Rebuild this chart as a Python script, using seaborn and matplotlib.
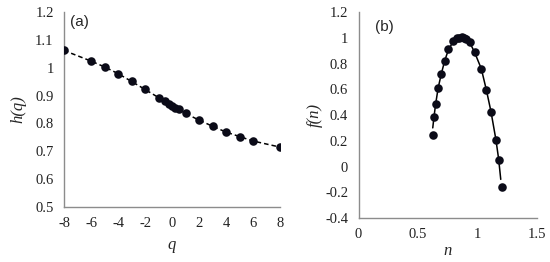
import numpy as np
import pandas as pd
import seaborn as sns
import matplotlib.pyplot as plt

# panel (a): generalized Hurst exponent
q_vals = [-8, -6, -5, -4, -3, -2, -1, -0.5, -0.25, 0, 0.25, 0.5, 1, 2, 3, 4, 5, 6, 8]
h_vals = [1.062, 1.024, 1.003, 0.979, 0.951, 0.922, 0.893, 0.879, 0.871, 0.863,
          0.857, 0.851, 0.836, 0.812, 0.790, 0.769, 0.753, 0.737, 0.715]

# panel (b): singularity spectrum, points and fitted curve
n_vals = [0.624, 0.635, 0.649, 0.671, 0.697, 0.725, 0.757, 0.797, 0.831, 0.850,
          0.868, 0.886, 0.904, 0.938, 0.978, 1.034, 1.076, 1.115, 1.157, 1.180, 1.205]
f_vals = [0.247, 0.383, 0.484, 0.613, 0.719, 0.820, 0.913, 0.972, 0.997, 1.002,
          1.004, 1.001, 0.993, 0.964, 0.887, 0.761, 0.595, 0.427, 0.203, 0.050, -0.157]
fit_n = [0.625, 0.635, 0.649, 0.671, 0.697, 0.725, 0.757, 0.797, 0.830, 0.868,
         0.904, 0.938, 0.978, 1.034, 1.076, 1.115, 1.157, 1.180, 1.198]
fit_f = [0.300, 0.383, 0.484, 0.613, 0.719, 0.820, 0.907, 0.970, 0.997, 1.003,
         0.992, 0.962, 0.886, 0.760, 0.598, 0.430, 0.210, 0.060, -0.100]

df_a = pd.DataFrame({"q": q_vals, "h": h_vals})
df_b = pd.DataFrame({"n": n_vals, "f": f_vals})
df_fit = pd.DataFrame({"n": fit_n, "f": fit_f})

sns.set_style("white")
plt.rcParams['font.family'] = ['Liberation Serif', 'DejaVu Serif']

fig = plt.figure(figsize=(5.5, 2.62), dpi=100)
ax1 = fig.add_axes([0.1164, 0.21, 0.3927, 0.744])
ax2 = fig.add_axes([0.652, 0.168, 0.3236, 0.786])

dot = "#0b0b18"
spine_c = "#8c8c8c"

sns.lineplot(data=df_a, x="q", y="h", ax=ax1, color="black", linewidth=1.1,
             linestyle=(0, (3, 2)), sort=True)
sns.scatterplot(data=df_a, x="q", y="h", ax=ax1, color=dot, s=38,
                edgecolor=dot, linewidth=0, zorder=3)

sns.lineplot(data=df_fit, x="n", y="f", ax=ax2, color="black", linewidth=1.1, sort=False)
sns.scatterplot(data=df_b, x="n", y="f", ax=ax2, color=dot, s=38,
                edgecolor=dot, linewidth=0, zorder=3)

ax1.set_xlim(-8, 8)
ax1.set_ylim(0.5, 1.2)
ax1.set_xticks(np.arange(-8, 9, 2))
ax1.set_yticks([0.5, 0.6, 0.7, 0.8, 0.9, 1.0, 1.1, 1.2])
ax1.set_yticklabels(['0.5', '0.6', '0.7', '0.8', '0.9', '1', '1.1', '1.2'])
ax1.set_xticklabels([str(v) for v in range(-8, 9, 2)])

ax2.set_xlim(0, 1.5)
ax2.set_ylim(-0.4, 1.2)
ax2.set_xticks([0, 0.5, 1, 1.5])
ax2.set_xticklabels(['0', '0.5', '1', '1.5'])
ax2.set_yticks([-0.4, -0.2, 0, 0.2, 0.4, 0.6, 0.8, 1.0, 1.2])
ax2.set_yticklabels(['-0.4', '-0.2', '0', '0.2', '0.4', '0.6', '0.8', '1', '1.2'])

for ax in (ax1, ax2):
    ax.spines['right'].set_visible(False)
    ax.spines['top'].set_visible(False)
    for s in ('left', 'bottom'):
        ax.spines[s].set_color(spine_c)
        ax.spines[s].set_linewidth(1.0)
    ax.tick_params(axis='both', direction='out', length=3.5, width=0.8,
                   color=spine_c, labelsize=10.5, labelcolor="#222222", pad=4)
    ax.set_facecolor("white")

ax1.set_xlabel("q", fontsize=12, style='italic', labelpad=5)
ax1.set_ylabel("h(q)", fontsize=12, style='italic', labelpad=6)
ax2.set_xlabel("n", fontsize=12, style='italic', labelpad=1)
ax2.set_ylabel("f(n)", fontsize=12, style='italic', labelpad=2)

ax1.text(0.028, 0.95, "(a)", transform=ax1.transAxes, fontsize=11,
         family=['Liberation Sans', 'DejaVu Sans'], va='center', ha='left')
ax2.text(0.09, 0.927, "(b)", transform=ax2.transAxes, fontsize=11,
         family=['Liberation Sans', 'DejaVu Sans'], va='center', ha='left')

plt.savefig("out.png", dpi=100)
